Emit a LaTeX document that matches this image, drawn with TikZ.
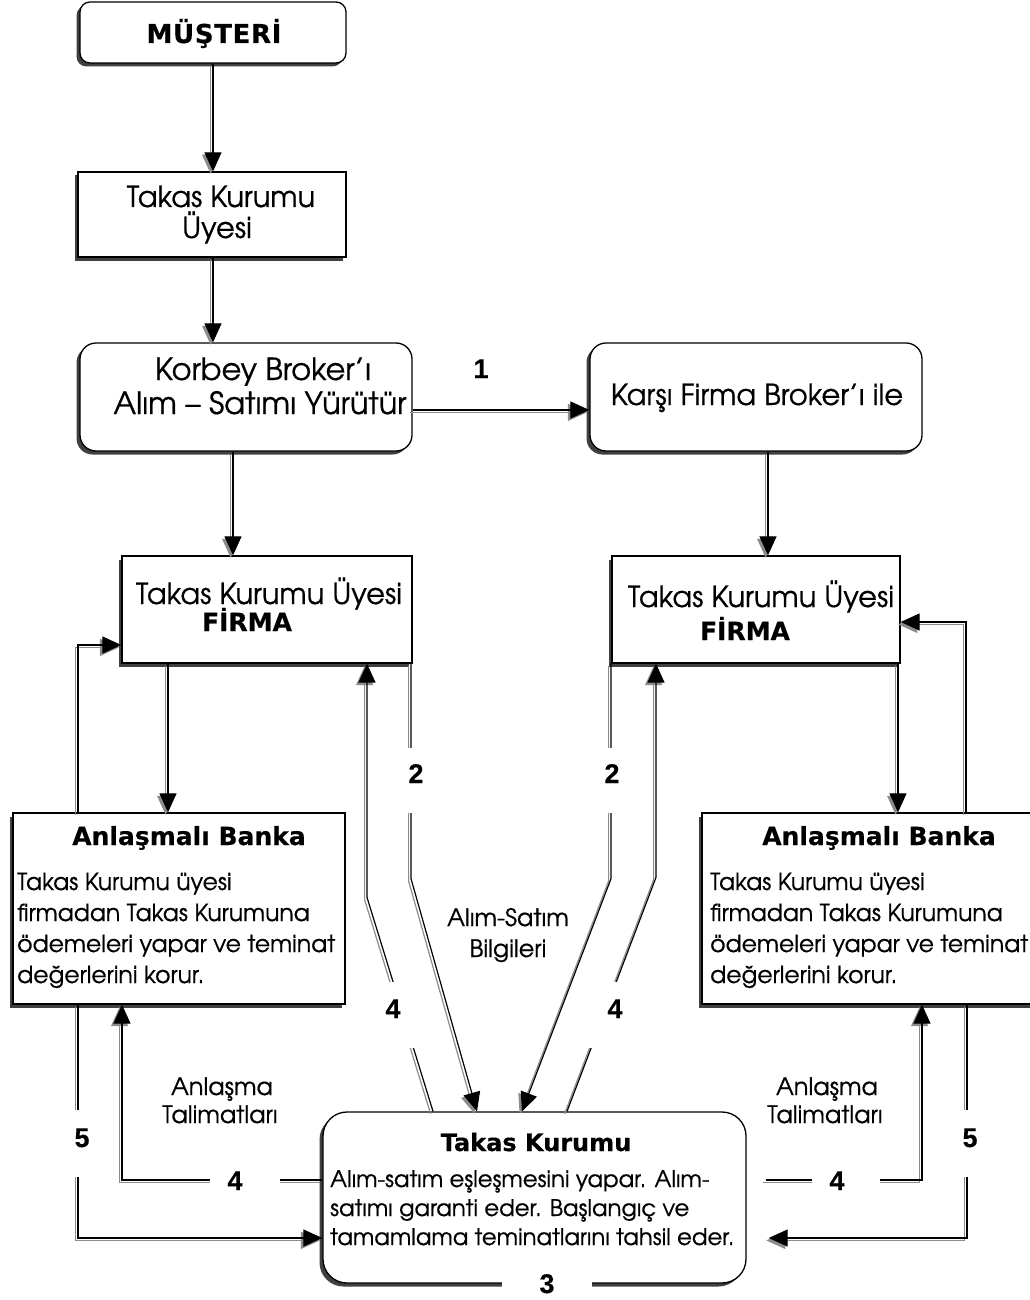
\documentclass[tikz,border=0pt]{standalone}
\usepackage{fontspec}
\setmainfont{TeX Gyre Adventor}[FakeBold=0.6]
\newfontfamily\headfont{DejaVu Sans}[FakeBold=0.4]
\newfontfamily\numfont{Liberation Sans}[FakeBold=0.3]
\usetikzlibrary{arrows.meta,shadows}

\newcommand\bigtxt{\fontsize{29}{33}\selectfont}
\newcommand\brokertxt{\fontsize{30.5}{34}\selectfont}
\newcommand\bodytxt{\fontsize{23.5}{31}\selectfont}
\newcommand\notetxt{\fontsize{24}{31}\selectfont}
\newcommand\clrtxt{\fontsize{22.8}{30}\selectfont}
\newcommand\headtxt{\headfont\bfseries\fontsize{25}{30}\selectfont}
\newcommand\numtxt{\numfont\bfseries\fontsize{27}{30}\selectfont}

% a connector: grey offset copy first, black line on top
\newcommand\flow[2][]{%
  \path[wireshade,#1] #2;
  \path[wire,#1] #2;}

\begin{document}
\begin{tikzpicture}[x=1pt,y=-1pt,
  boxshade/.style={drop shadow={shadow xshift=-3.5pt,shadow yshift=-3.5pt,fill=black!75,opacity=1}},
  sqbox/.style={draw=black,line width=1.3pt,fill=white,inner sep=0pt,boxshade},
  rbox/.style={sqbox,rounded corners=#1},
  wire/.style={draw=black,line width=1.2pt},
  wireshade/.style={draw=black!45,line width=1.2pt,transform canvas={xshift=-2.4pt,yshift=-2.4pt}},
  tip/.style={-{Triangle[length=19pt,width=17pt]}},
  cut/.style={fill=white,inner ysep=0pt,anchor=base,font=\numtxt},
  txt/.style={inner sep=0pt,anchor=base,font=\bigtxt},
  ctxt/.style={inner sep=0pt,anchor=base,font=\notetxt},
  ltxt/.style={inner sep=0pt,anchor=base west,font=\bodytxt},
  head/.style={inner sep=0pt,anchor=base,font=\headtxt}]

\useasboundingbox (0,0) rectangle (1029,1300);

% boxes
\node[rbox=10pt, minimum width=266pt, minimum height=61pt] (musteri) at (213,32.5) {};
\node[sqbox, minimum width=268pt, minimum height=85pt] (tku) at (212,214.5) {};
\node[rbox=16pt, minimum width=332pt, minimum height=108pt] (korbey) at (246,397) {};
\node[rbox=16pt, minimum width=332pt, minimum height=108pt] (karsi) at (756,397) {};
\node[sqbox, minimum width=290pt, minimum height=107pt] (firmaL) at (267,609.5) {};
\node[sqbox, minimum width=288pt, minimum height=107pt] (firmaR) at (756,609.5) {};
\node[sqbox, minimum width=332pt, minimum height=191pt] (bankL) at (179,908.5) {};
\node[sqbox, minimum width=338pt, minimum height=191pt] (bankR) at (871,908.5) {};
\node[rbox=24pt, minimum width=423pt, minimum height=171pt] (takas) at (534.5,1197.5) {};

% box texts
\node[head, font=\headfont\bfseries\fontsize{26}{26}\selectfont\addfontfeatures{LetterSpace=2.5}] (musteri-t) at (214,43) {MÜŞTERİ};
\node[txt] (tku-1) at (221,207) {Takas Kurumu};
\node[txt] (tku-2) at (217,238) {Üyesi};
\node[txt, font=\brokertxt] (korbey-1) at (263,380) {Korbey Broker’ı};
\node[txt, font=\brokertxt] (korbey-2) at (260,414) {Alım – Satımı Yürütür};
\node[txt] (karsi-t) at (757,405) {Karşı Firma Broker’ı ile};
\node[txt] (firmaL-1) at (269,604) {Takas Kurumu Üyesi};
\node[head] (firmaL-2) at (247,631) {FİRMA};
\node[txt] (firmaR-1) at (761,607) {Takas Kurumu Üyesi};
\node[head] (firmaR-2) at (745,640) {FİRMA};
\node[head] (bankL-h) at (189,845) {Anlaşmalı Banka};
\node[ltxt] (bankL-1) at (17,890) {Takas Kurumu üyesi};
\node[ltxt] (bankL-2) at (17,921) {firmadan Takas Kurumuna};
\node[ltxt] (bankL-3) at (17,952) {ödemeleri yapar ve teminat};
\node[ltxt] (bankL-4) at (17,983) {değerlerini korur.};
\node[head] (bankR-h) at (879,845) {Anlaşmalı Banka};
\node[ltxt] (bankR-1) at (710,890) {Takas Kurumu üyesi};
\node[ltxt] (bankR-2) at (710,921) {firmadan Takas Kurumuna};
\node[ltxt] (bankR-3) at (710,952) {ödemeleri yapar ve teminat};
\node[ltxt] (bankR-4) at (710,983) {değerlerini korur.};
\node[head, font=\headfont\bfseries\fontsize{24}{24}\selectfont] (takas-h) at (536,1151) {Takas Kurumu};
\node[ltxt, font=\clrtxt] (takas-1) at (330,1187) {Alım-satım eşleşmesini yapar. Alım-};
\node[ltxt, font=\clrtxt] (takas-2) at (330,1216) {satımı garanti eder. Başlangıç ve};
\node[ltxt, font=\clrtxt] (takas-3) at (330,1245) {tamamlama teminatlarını tahsil eder.};

% free texts
\node[ctxt] (info-1) at (508,926) {Alım-Satım};
\node[ctxt] (info-2) at (508,957) {Bilgileri};
\node[ctxt] (talL-1) at (222,1095) {Anlaşma};
\node[ctxt] (talL-2) at (220,1123) {Talimatları};
\node[ctxt] (talR-1) at (827,1095) {Anlaşma};
\node[ctxt] (talR-2) at (825,1123) {Talimatları};

% connectors
\flow[tip]{(musteri.south) -- (musteri.south |- tku.north)}
\flow[tip]{([xshift=1pt]tku.south) -- ([xshift=-33pt]korbey.north)}
\flow[tip]{([yshift=-13pt]korbey.east) -- ([yshift=-13pt]karsi.west)}
\flow[tip]{([xshift=-13pt]korbey.south) -- ([xshift=-34pt]firmaL.north)}
\flow[tip]{([xshift=12pt]karsi.south) -- ([xshift=12pt]firmaR.north)}
\flow[tip]{([xshift=-99pt]firmaL.south) -- ([xshift=-11pt]bankL.north)}
\flow[tip]{([xshift=-101pt]bankL.north) |- ([yshift=-35.5pt]firmaL.west)}
\flow[tip]{([xshift=142pt]firmaR.south) -- ([xshift=27pt]bankR.north)}
\flow[tip]{([xshift=95pt]bankR.north) |- ([yshift=-12.5pt]firmaR.east)}
% 2: trade data to the clearing house
\flow[tip]{([xshift=144pt]firmaL.south) -- ++(0,215) -- ([xshift=-57.5pt]takas.north)}
\flow[tip]{([xshift=-145pt]firmaR.south) -- ++(0,215) -- ([xshift=-12.5pt]takas.north)}
% 4: clearing house back to the firms
\flow[tip]{([xshift=-101.5pt]takas.north) -- ++(-66,-214) -- ([xshift=100pt]firmaL.south)}
\flow[tip]{([xshift=32.5pt]takas.north) -- ++(89,-234) -- ([xshift=-100pt]firmaR.south)}
% 4: settlement instructions to the banks
\flow[tip]{([yshift=17.5pt]takas.west) -| ([xshift=-57pt]bankL.south)}
\flow[tip]{([xshift=19pt,yshift=17.5pt]takas.east) -| ([xshift=51pt]bankR.south)}
% 5: banks to the clearing house
\flow[tip]{([xshift=-101pt]bankL.south) |- ([yshift=-40.5pt]takas.west)}
\flow[tip]{([xshift=96pt]bankR.south) |- ([xshift=22pt,yshift=-40.5pt]takas.east)}

% step numbers (white backing opens the lines)
\node[cut, fill=none, inner xsep=3pt] (lab1) at (481,378) {1};
\node[cut, inner xsep=4pt, text height=35pt, text depth=30pt] (lab2L) at (416,783) {2};
\node[cut, inner xsep=4pt, text height=35pt, text depth=30pt] (lab2R) at (612,783) {2};
\node[cut, inner xsep=14pt, text height=36pt, text depth=30pt] (lab4L) at (393,1018) {4};
\node[cut, inner xsep=20pt, text height=36pt, text depth=30pt] (lab4R) at (615,1018) {4};
\node[cut, inner xsep=17.5pt, text height=24pt, text depth=6pt] (lab4a) at (245,1190) {4\hspace*{20pt}};
\node[cut, inner xsep=17.5pt, text height=24pt, text depth=6pt] (lab4b) at (846,1190) {4\hspace*{18pt}};
\node[cut, inner xsep=4pt, text height=37pt, text depth=30pt] (lab5L) at (82,1147) {5};
\node[cut, inner xsep=4pt, text height=37pt, text depth=30pt] (lab5R) at (970,1147) {5};
\node[cut, inner xsep=37.5pt, text height=22pt, text depth=3pt] (lab3) at (547,1293) {3};
\end{tikzpicture}
\end{document}
